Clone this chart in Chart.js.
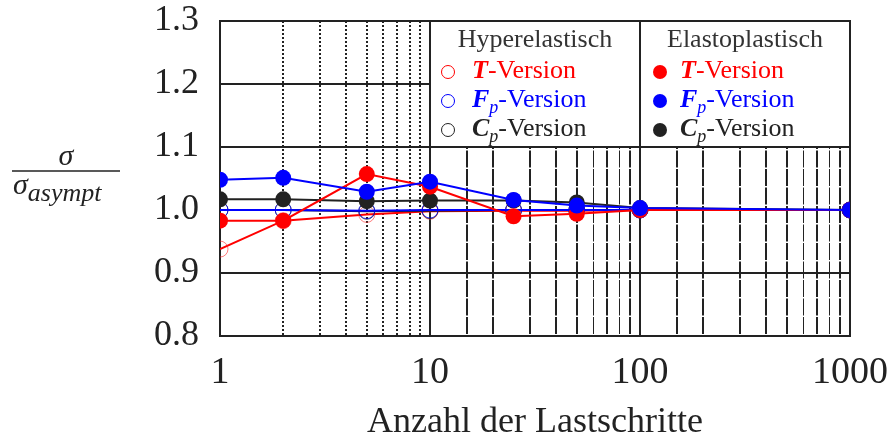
<!DOCTYPE html>
<html>
<head>
<meta charset="utf-8">
<script src="https://cdn.jsdelivr.net/npm/chart.js@4/dist/chart.umd.min.js"></script>
<style>
  html, body { margin: 0; padding: 0; background: #fff; }
  #wrap { width: 888px; height: 441px; }
</style>
</head>
<body>
<div id="wrap"><canvas id="chart" width="888" height="441"></canvas></div>
<script>
// Anzahl der Lastschritte (x) und normierte Spannung sigma / sigma_asympt (y)
const lastschritte = [1, 2, 5, 10, 25, 50, 100, 1000];

// Elastoplastisch (gefuellte Kreise)
const elastoT  = [0.983, 0.983, 1.057, 1.037, 0.990, 0.994, 1.000, 1.000];
const elastoFp = [1.048, 1.051, 1.029, 1.045, 1.016, 1.007, 1.003, 1.000];
const elastoCp = [1.017, 1.017, 1.014, 1.015, 1.015, 1.012, 1.003, 1.000];

// Hyperelastisch (offene Kreise)
const hyperT  = [0.938, 0.983, 0.993, 0.998, 0.999, 0.999, 1.000, 1.000];
const hyperFp = [1.000, 1.000, 0.999, 1.000, 1.000, 1.000, 1.000, 1.000];
const hyperCp = [1.000, 1.000, 0.998, 0.999, 1.000, 1.000, 1.000, 1.000];

const yTicks = [0.8, 0.9, 1.0, 1.1, 1.2, 1.3];
const xLabels = [1, 10, 100, 1000];

const RED = '#ff0000', BLUE = '#0000ff', BLACK = '#222222';
const FONT = '"Liberation Serif", "DejaVu Serif", serif';

function pts(vals) {
  return vals.map((v, i) => ({ x: lastschritte[i], y: v }));
}

function filled(label, vals, color) {
  return {
    label: label, data: pts(vals), showLine: true,
    borderColor: color, backgroundColor: color, borderWidth: 2,
    pointRadius: 8, pointBorderWidth: 0, pointBackgroundColor: color
  };
}

function hollow(label, vals, color, ring) {
  return {
    label: label, data: pts(vals), showLine: true,
    borderColor: color, backgroundColor: 'rgba(0,0,0,0)', borderWidth: 2,
    pointRadius: 8, pointBorderWidth: 1, pointBorderColor: ring,
    pointBackgroundColor: 'rgba(0,0,0,0)'
  };
}

// first dataset is drawn on top
const datasets = [
  filled('F_p elasto', elastoFp, BLUE),
  filled('T elasto', elastoT, RED),
  filled('C_p elasto', elastoCp, BLACK),
  hollow('F_p hyper', hyperFp, BLUE, 'rgba(0,0,255,0.7)'),
  hollow('C_p hyper', hyperCp, BLACK, 'rgba(30,30,30,0.8)'),
  hollow('T hyper', hyperT, RED, 'rgba(255,40,40,0.6)')
];

function near(a, b) { return Math.abs(a - b) < 1e-6; }

// draw text pieces one after another (bold italic symbol, subscript, rest)
function richText(ctx, x, y, parts) {
  for (const p of parts) {
    ctx.font = p.font;
    ctx.fillStyle = p.color;
    ctx.fillText(p.text, x, y + (p.dy || 0));
    x += ctx.measureText(p.text).width;
  }
}

function entry(sym, sub, color) {
  const parts = [{ text: sym, font: 'italic bold 26px ' + FONT, color: color }];
  if (sub) parts.push({ text: sub, font: 'italic 18px ' + FONT, color: color, dy: 6 });
  parts.push({ text: '-Version', font: '26px ' + FONT, color: color });
  return parts;
}

const overlay = {
  id: 'overlay',
  afterDraw(chart) {
    const ctx = chart.ctx;
    const x = chart.scales.x, y = chart.scales.y;
    const l = x.getPixelForValue(10), r = x.getPixelForValue(1000), m = x.getPixelForValue(100);
    const t = y.getPixelForValue(1.3), b = y.getPixelForValue(1.1);
    ctx.save();
    // legend box sits in the upper right grid cells
    ctx.fillStyle = '#fff';
    ctx.fillRect(l, t, r - l, b - t);
    ctx.strokeStyle = BLACK;
    ctx.lineWidth = 2;
    ctx.strokeRect(l, t, r - l, b - t);
    ctx.beginPath();
    ctx.moveTo(m, t); ctx.lineTo(m, b);
    ctx.stroke();

    ctx.textBaseline = 'alphabetic';
    ctx.textAlign = 'center';
    ctx.fillStyle = '#333';
    ctx.font = '26px ' + FONT;
    ctx.fillText('Hyperelastisch', (l + m) / 2, t + 26);
    ctx.fillText('Elastoplastisch', (m + r) / 2, t + 26);
    ctx.textAlign = 'left';

    const rows = [
      ['T', '', RED],
      ['F', 'p', BLUE],
      ['C', 'p', BLACK]
    ];
    rows.forEach((row, i) => {
      const cy = t + 51 + i * 29;
      // hyperelastisch: open circle
      ctx.beginPath();
      ctx.arc(l + 18, cy, 6.5, 0, Math.PI * 2);
      ctx.lineWidth = 1;
      ctx.strokeStyle = row[2];
      ctx.stroke();
      richText(ctx, l + 42, cy + 6, entry(row[0], row[1], row[2]));
      // elastoplastisch: filled circle
      ctx.beginPath();
      ctx.arc(m + 20, cy, 7, 0, Math.PI * 2);
      ctx.fillStyle = row[2];
      ctx.fill();
      richText(ctx, m + 40, cy + 6, entry(row[0], row[1], row[2]));
    });

    // y axis title as a fraction
    ctx.fillStyle = BLACK;
    ctx.font = 'italic 30px ' + FONT;
    ctx.textAlign = 'center';
    ctx.fillText('\u03c3', 66, 165);
    ctx.beginPath();
    ctx.moveTo(12, 171); ctx.lineTo(120, 171);
    ctx.lineWidth = 1.5;
    ctx.strokeStyle = BLACK;
    ctx.stroke();
    ctx.textAlign = 'left';
    richText(ctx, 13, 194, [
      { text: '\u03c3', font: 'italic 30px ' + FONT, color: BLACK },
      { text: 'asympt', font: 'italic 26px ' + FONT, color: BLACK, dy: 7 }
    ]);
    ctx.restore();
  }
};

new Chart(document.getElementById('chart').getContext('2d'), {
  type: 'scatter',
  data: { datasets: datasets },
  options: {
    responsive: false,
    animation: false,
    layout: { padding: 0 },
    plugins: { legend: { display: false }, tooltip: { enabled: false } },
    scales: {
      x: {
        type: 'logarithmic',
        min: 1, max: 1000,
        afterFit(scale) {
          scale.height = 105;
          scale.paddingLeft = 0;
          scale.paddingRight = 38;
        },
        ticks: {
          autoSkip: false, maxRotation: 0, padding: 14,
          color: BLACK,
          font: { family: FONT, size: 38 },
          callback(v) { return xLabels.some(n => near(n, v)) ? String(v) : ''; }
        },
        grid: {
          drawTicks: false,
          color: BLACK,
          lineWidth(ctx) {
            const v = ctx.tick ? ctx.tick.value : 0;
            return (v === 60 || v === 80 || v === 600 || v === 800) ? 1 : 2;
          }
        },
        border: {
          display: true, color: BLACK, width: 2,
          dash(ctx) {
            if (!ctx.tick) return [];
            const v = ctx.tick.value;
            if (xLabels.some(n => near(n, v))) return [];
            return v < 10 ? [2, 2] : [17, 1.5];
          }
        },
        title: {
          display: true, text: 'Anzahl der Lastschritte',
          color: BLACK, font: { family: FONT, size: 36 },
          padding: { top: 0, bottom: -3 }
        }
      },
      y: {
        min: 0.8, max: 1.3,
        afterFit(scale) {
          scale.width = 220;
          scale.paddingTop = 21;
          scale.paddingBottom = 0;
        },
        afterBuildTicks(scale) { scale.ticks = yTicks.map(v => ({ value: v })); },
        ticks: {
          padding: 21, color: BLACK,
          font: { family: FONT, size: 36 },
          callback(v) { return v.toFixed(1); }
        },
        grid: {
          drawTicks: false,
          lineWidth: 2,
          color(ctx) {
            const v = ctx.tick ? ctx.tick.value : 0;
            return near(v, 1.0) ? 'rgba(0,0,0,0)' : BLACK;
          }
        },
        border: { display: true, color: BLACK, width: 2 }
      }
    }
  },
  plugins: [overlay]
});
</script>
</body>
</html>
